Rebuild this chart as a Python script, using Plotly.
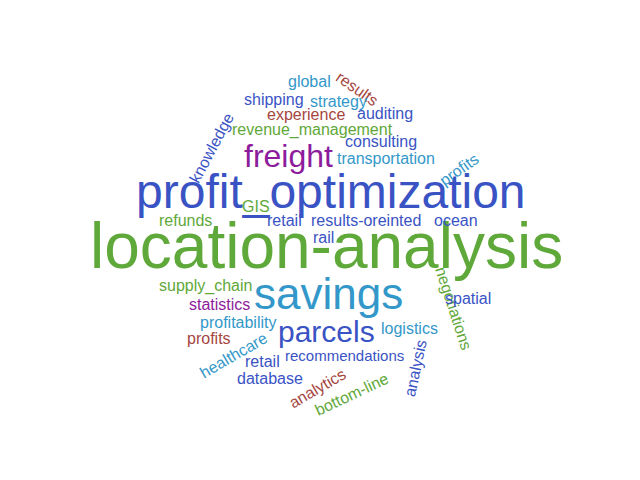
import plotly.graph_objects as go

words = ["location-analysis","profit_optimization","savings","freight","parcels","knowledge","global","results",
 "shipping","strategy","auditing","experience","revenue_management","consulting","profits","transportation",
 "GIS","retail","results-oreinted","refunds","ocean","rail","supply_chain","negotiations","spatial","statistics",
 "profitability","logistics","profits","healthcare","retail","recommendations","analysis","database","analytics","bottom-line"]
xs = [318,323,320,280,318,203,301,349,266,330,377,298,304,373,451,378,248,276,358,177,448,315,197,446,460,211,230,401,201,225,254,336,407,262,309,343]
ys = [245,190,292,155,330,140,80,80,98,100,112,113,129,140,161,157,205,219,219,219,219,236,285,300,297,303,321,327,337,347,360,354,360,377,380,386]
sizes = [64,48,44,32,30,16,16,16,16,16,16,16,16,16,16,16,16,16,16,16,16,16,16,16,16,16,16,16,16,16,16,15,16,16,16,16]
angles = [0,0,0,0,0,-62,0,35,0,0,0,0,0,0,-35,0,0,0,0,0,0,0,0,72,0,0,0,0,0,-30,0,0,-78,0,-30,-25]
G,B,C,P,R = "#5fa83a","#3a53c4","#3398c9","#8d1c9c","#a5463f"
colors = [G,B,C,P,B,B,C,R,B,C,B,R,G,B,C,C,G,B,B,G,B,B,G,G,B,P,C,C,R,C,B,B,B,B,R,G]

fig = go.Figure()
fig.add_trace(go.Scatter(x=[0,640], y=[0,480], mode="markers", marker=dict(opacity=0), hoverinfo="skip"))
for w,x,y,s,a,c in zip(words,xs,ys,sizes,angles,colors):
    fig.add_annotation(x=x,y=y,text=w,showarrow=False,textangle=a,yshift=7 if a == 0 else 0,
                       font=dict(size=s,color=c,family="Liberation Sans Narrow, Arial Narrow, Liberation Sans, sans-serif"))
fig.update_xaxes(visible=False, range=[0,640])
fig.update_yaxes(visible=False, range=[480,0])
fig.update_layout(width=640,height=480,margin=dict(l=0,r=0,t=0,b=0),plot_bgcolor="white",paper_bgcolor="white",showlegend=False)
fig.write_html("out.html")
